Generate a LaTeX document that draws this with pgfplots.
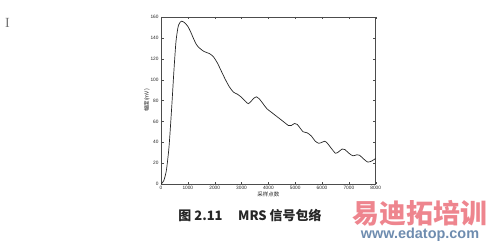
\documentclass[border=0pt]{standalone}
\usepackage{fontspec}
\setmainfont{Liberation Sans}
\newfontfamily\cjk{Noto Sans CJK SC}
\newfontfamily\serif{Liberation Serif}
\usepackage{pgfplots}
\pgfplotsset{compat=1.18}
\definecolor{wmred}{RGB}{236,120,130}
\definecolor{wmblue}{RGB}{110,140,175}
\begin{document}
\begin{tikzpicture}[x=1bp,y=1bp]
\path (0,0) rectangle (500,242);
\node[text=black!55,font=\serif\fontsize{14}{14}\selectfont] at (7.5,219.5) {I};
\begin{axis}[
  at={(161bp,58bp)}, anchor=south west,
  scale only axis, width=214.7bp, height=167bp,
  xmin=0, xmax=8000, ymin=0, ymax=160,
  xtick={0,1000,...,8000}, ytick={0,20,...,160},
  scaled x ticks=false,
  tick align=inside, major tick length=2.5bp,
  axis line style={black!70, line width=0.5pt},
  tick style={black!70},
  tick label style={font=\fontsize{4.8}{5}\selectfont, text=black!85},
  /pgf/number format/assume math mode=true,
  /pgf/number format/1000 sep={},
  xlabel={\cjk 采样点数}, ylabel={\cjk 幅度(mV)},
  label style={font=\fontsize{5.5}{6}\selectfont, text=black!85},
  xlabel style={yshift=5bp}, ylabel style={yshift=-6bp},
  xticklabel style={yshift=1bp}, yticklabel style={xshift=1bp},
]
\addplot[black!85, line width=0.7pt, smooth, tension=0.4] coordinates {
(0,0) (100,3) (200,13) (300,36) (400,74) (480,108) (560,137) (650,152) (760,156)
(880,154.5) (1000,151) (1100,146) (1200,140) (1300,134.5) (1400,131) (1600,127)
(1800,125) (1950,122) (2100,116) (2250,108) (2400,100) (2550,93) (2700,88)
(2850,86) (3000,83) (3150,79) (3250,77) (3350,79) (3450,82) (3560,83.5)
(3680,81) (3800,77) (3950,72) (4150,68) (4350,64) (4550,60) (4750,56)
(4850,56) (4980,58) (5080,57) (5200,53) (5300,50) (5450,49) (5600,46)
(5750,41) (5880,39) (6000,40) (6100,41) (6200,39) (6350,34) (6500,29.5)
(6600,30.5) (6750,33.5) (6850,33) (7000,29.5) (7150,27) (7300,28) (7400,27.5)
(7550,24) (7700,21) (7850,22) (8000,24.5)
};
\end{axis}
\node[font=\cjk\fontsize{13}{13}\selectfont\bfseries, text=black!85] at (250,26) {图 2.11\hspace{1.2em}MRS 信号包络};
\node[font=\cjk\fontsize{27}{27}\selectfont\bfseries, text=wmred, opacity=0.9] at (420,29) {易迪拓培训};
\node[font=\fontsize{14.5}{14.5}\selectfont\bfseries, text=wmblue] at (420,7) {www.edatop.com};
\end{tikzpicture}
\end{document}
